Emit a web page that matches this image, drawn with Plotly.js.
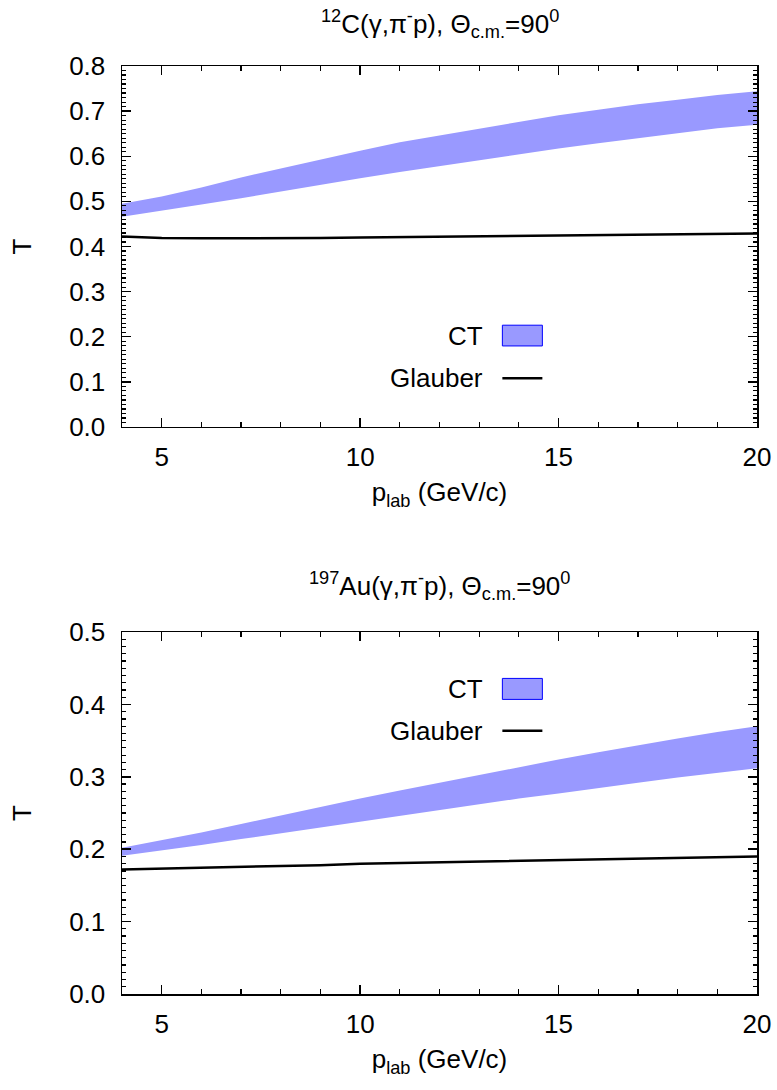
<!DOCTYPE html>
<html>
<head>
<meta charset="utf-8">
<script src="https://cdn.plot.ly/plotly-3.0.1.min.js"></script>
<style>html,body{margin:0;padding:0;background:#fff;}#chart{width:777px;height:1090px;}</style>
</head>
<body>
<div id="chart"></div>
<script>
// momentum p_lab (GeV/c)
const plab = [4,5,6,7,8,9,10,11,12,13,14,15,16,17,18,19,20];

// 12C panel
const c12_ctUpper = [0.495,0.511,0.531,0.553,0.573,0.593,0.612,0.631,0.646,0.662,0.676,0.691,0.703,0.715,0.725,0.736,0.744];
const c12_ctLower = [0.466,0.479,0.493,0.507,0.522,0.536,0.551,0.565,0.578,0.592,0.605,0.617,0.629,0.640,0.651,0.662,0.670];
const c12_glauber = [0.422,0.419,0.418,0.418,0.418,0.419,0.420,0.421,0.422,0.423,0.424,0.425,0.426,0.427,0.428,0.428,0.429];

// 197Au panel
const au_ctUpper = [0.202,0.212,0.223,0.235,0.247,0.259,0.270,0.281,0.292,0.303,0.314,0.324,0.334,0.344,0.353,0.362,0.370];
const au_ctLower = [0.191,0.198,0.206,0.214,0.222,0.231,0.239,0.247,0.255,0.262,0.270,0.277,0.285,0.292,0.299,0.306,0.312];
const au_glauber = [0.172,0.173,0.175,0.176,0.177,0.178,0.180,0.181,0.182,0.183,0.184,0.185,0.186,0.187,0.188,0.189,0.190];

const titles = [
  '<sup>12</sup>C(γ,π<sup>-</sup>p), Θ<sub>c.m.</sub>=90<sup>0</sup>',
  '<sup>197</sup>Au(γ,π<sup>-</sup>p), Θ<sub>c.m.</sub>=90<sup>0</sup>'
];
const legendNames = ['CT', 'Glauber'];
const xTitle = 'p<sub>lab</sub> (GeV/c)';
const yTitle = 'T';

const FONT = 'Liberation Sans, Arial, Helvetica, sans-serif';
const FS = 26;
const BAND = '#9999ff';

function bandTraces(lower, upper, xa, ya) {
  return [
    {x: plab, y: lower, xaxis: xa, yaxis: ya, mode: 'lines', line: {width: 0}, showlegend: false, hoverinfo: 'skip'},
    {x: plab, y: upper, xaxis: xa, yaxis: ya, mode: 'lines', line: {width: 0}, fill: 'tonexty', fillcolor: BAND, name: legendNames[0], showlegend: false},
  ];
}
function glTrace(vals, xa, ya) {
  return {x: plab, y: vals, xaxis: xa, yaxis: ya, mode: 'lines', line: {color: '#000', width: 2.5}, name: legendNames[1], showlegend: false};
}

const data = [
  ...bandTraces(c12_ctLower, c12_ctUpper, 'x', 'y'),
  glTrace(c12_glauber, 'x', 'y'),
  ...bandTraces(au_ctLower, au_ctUpper, 'x2', 'y2'),
  glTrace(au_glauber, 'x2', 'y2'),
];

function xAxis(anchor) {
  return {
    anchor: anchor, domain: [0, 1], range: [4, 20], autorange: false,
    tick0: 0, dtick: 5, ticks: 'inside', ticklen: 9, tickwidth: 1.5, tickcolor: '#000',
    minor: {dtick: 1, ticks: 'inside', ticklen: 5, tickwidth: 1.2, tickcolor: '#000', showgrid: false},
    showline: true, linecolor: '#000', linewidth: 1.5, mirror: 'ticks',
    showgrid: false, zeroline: false,
    tickfont: {family: FONT, size: FS, color: '#000'}, ticklabelstandoff: 6,
    title: {text: xTitle, font: {family: FONT, size: FS, color: '#000'}, standoff: 12},
  };
}
function yAxis(anchor, domain, range) {
  return {
    anchor: anchor, domain: domain, range: range, autorange: false,
    tick0: 0, dtick: 0.1, tickformat: '.1f', ticks: 'inside', ticklen: 9, tickwidth: 1.5, tickcolor: '#000',
    minor: {dtick: 0.01, ticks: 'inside', ticklen: 4, tickwidth: 1.2, tickcolor: '#000', showgrid: false},
    showline: true, linecolor: '#000', linewidth: 1.5, mirror: 'ticks',
    showgrid: false, zeroline: false,
    tickfont: {family: FONT, size: FS, color: '#000'}, ticklabelstandoff: 10,
    title: {text: yTitle, font: {family: FONT, size: FS, color: '#000'}, standoff: 30},
  };
}

// legend key (drawn manually: text on the left, key on the right)
function key(xa, ya, yCT0, yCT1, yGl, yCTtext) {
  const xd = xa + ' domain';
  return {
    shapes: [
      {type: 'rect', xref: xd, yref: ya, x0: 0.599, x1: 0.662, y0: yCT0, y1: yCT1, fillcolor: BAND, line: {color: '#0000ff', width: 1}},
      {type: 'line', xref: xd, yref: ya, x0: 0.599, x1: 0.662, y0: yGl, y1: yGl, line: {color: '#000', width: 2.5}},
    ],
    annotations: [
      {xref: xd, yref: ya, x: 0.572, y: yCTtext, xanchor: 'right', yanchor: 'middle', text: legendNames[0], showarrow: false, font: {family: FONT, size: FS, color: '#000'}},
      {xref: xd, yref: ya, x: 0.572, y: yGl, xanchor: 'right', yanchor: 'middle', text: legendNames[1], showarrow: false, font: {family: FONT, size: FS, color: '#000'}},
    ]
  };
}
const k1 = key('x', 'y', 0.1796, 0.2256, 0.108, 0.2026);
const k2 = key('x2', 'y2', 0.407, 0.436, 0.3636, 0.4214);

const layout = {
  width: 777, height: 1090,
  margin: {l: 122, r: 20, t: 66, b: 96},
  paper_bgcolor: '#fff', plot_bgcolor: '#fff',
  showlegend: false,
  font: {family: FONT, size: FS, color: '#000'},
  xaxis: xAxis('y'),
  yaxis: yAxis('x', [0.611, 1], [0, 0.8]),
  xaxis2: xAxis('y2'),
  yaxis2: yAxis('x2', [0, 0.390], [0, 0.5]),
  shapes: [...k1.shapes, ...k2.shapes],
  annotations: [
    {xref: 'x domain', yref: 'paper', x: 0.5, y: 1.045, xanchor: 'center', yanchor: 'middle', text: titles[0], showarrow: false, font: {family: FONT, size: FS, color: '#000'}},
    {xref: 'x2 domain', yref: 'paper', x: 0.5, y: 0.440, xanchor: 'center', yanchor: 'middle', text: titles[1], showarrow: false, font: {family: FONT, size: FS, color: '#000'}},
    ...k1.annotations, ...k2.annotations,
  ],
};

Plotly.newPlot('chart', data, layout, {staticPlot: true, displayModeBar: false});
</script>
</body>
</html>
